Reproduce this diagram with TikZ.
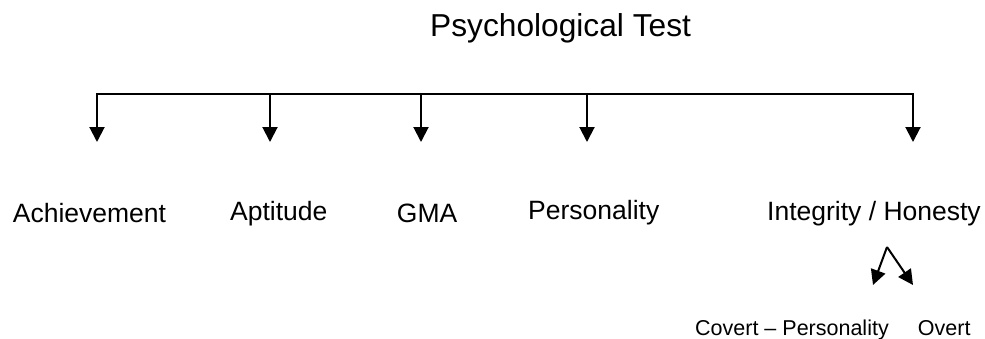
\documentclass[tikz,border=0pt]{standalone}
\usepackage{fontspec}
\setmainfont{Liberation Sans}
\usetikzlibrary{arrows.meta}

\newcommand*{\bary}{94}
\newcommand*{\tipy}{142}

\begin{document}
\begin{tikzpicture}
[
	x=1pt, y=-1pt,
	arr/.style={line width=2pt,-{Triangle[length=15pt,width=15pt]}},
	bar/.style={line width=2pt,line cap=rect},
	lbl/.style={anchor=base west,inner sep=0pt,font=\fontsize{26.5}{30}\selectfont},
	sublbl/.style={anchor=base west,inner sep=0pt,font=\fontsize{21.5}{25}\selectfont},
]
	\useasboundingbox (0,0) rectangle (985,338);

	% title
	\node[anchor=base west,inner sep=0pt,font=\fontsize{31.7}{36}\selectfont] (title) at (430,36) {Psychological Test};

	% bar and drops
	\foreach \x/\n in {97/ach,270/apt,421/gma,587/pers,913/integ}
	{
		\coordinate (top\n) at (\x,\bary);
		\coordinate (tip\n) at (\x,\tipy);
		\draw[arr] (top\n) -- (tip\n);
	}
	\draw[bar] (topach) -- (topinteg);

	% labels
	\node[lbl] (ach) at (12.7,222.7) {Achievement};
	\node[lbl] (apt) at (230,220.7) {Aptitude};
	\node[lbl] (gma) at (396.7,222.7) {GMA};
	\node[lbl] (pers) at (528,219.7) {Personality};
	\node[lbl] (integ) at (767,220) {Integrity / Honesty};

	% split below integrity
	\coordinate (apex) at (887,247);
	\coordinate (tipcov) at (873,285);
	\coordinate (tipovt) at (913,285);
	\draw[arr] (apex) -- (tipcov);
	\draw[arr] (apex) -- (tipovt);

	\node[sublbl] (covert) at (695,335) {Covert – Personality};
	\node[sublbl] (overt) at (917.7,335) {Overt};

\end{tikzpicture}
\end{document}
